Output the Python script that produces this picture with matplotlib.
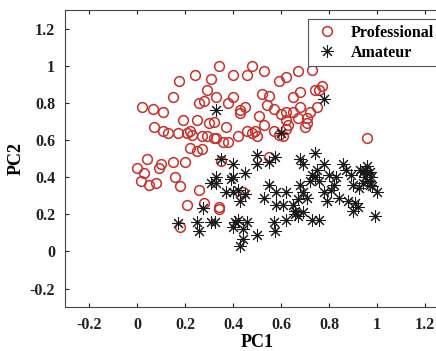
import numpy as np
import matplotlib
matplotlib.use('Agg')
import matplotlib.pyplot as plt

plt.rcParams['font.family'] = ['Liberation Serif', 'DejaVu Serif']
plt.rcParams['font.weight'] = 'bold'

# Professional (circles)
pro_x = [0.02, 0.065, 0.11, 0.15, 0.175, 0.24, 0.31, 0.34, 0.29, 0.26, 0.28, 0.33,
         0.07, 0.11, 0.13, 0.19, 0.17, 0.21, 0.22, 0.23, 0.25, 0.27, 0.30, 0.32, 0.29,
         0.32, 0.22, 0.25, 0.27, 0.04, 0.10, 0.09, 0.15, 0.20, 0.0, 0.03, 0.017, 0.05,
         0.08, 0.16, 0.18, 0.26, 0.28, 0.21, 0.34, 0.18,
         0.40, 0.46, 0.48, 0.53, 0.59, 0.62, 0.67, 0.73, 0.38, 0.40, 0.43, 0.45, 0.43,
         0.52, 0.55, 0.54, 0.57, 0.65, 0.68, 0.68, 0.74, 0.76, 0.77, 0.75, 0.51, 0.60,
         0.62, 0.65, 0.67, 0.72, 0.71, 0.71, 0.70, 0.62, 0.63, 0.62, 0.53, 0.37, 0.46,
         0.48, 0.50, 0.49, 0.57, 0.59, 0.61, 0.33, 0.36, 0.38, 0.42, 0.96, 0.55, 0.35,
         0.44, 0.34]
pro_y = [0.78, 0.77, 0.75, 0.83, 0.92, 0.95, 0.93, 1.0, 0.87, 0.80, 0.81, 0.83,
         0.67, 0.65, 0.64, 0.71, 0.64, 0.64, 0.65, 0.63, 0.71, 0.62, 0.69, 0.70, 0.62,
         0.61, 0.56, 0.54, 0.55, 0.50, 0.47, 0.45, 0.48, 0.48, 0.45, 0.42, 0.38, 0.36,
         0.37, 0.40, 0.35, 0.33, 0.26, 0.25, 0.23, 0.13,
         0.95, 0.95, 1.0, 0.97, 0.92, 0.94, 0.97, 0.98, 0.80, 0.83, 0.76, 0.78, 0.745,
         0.85, 0.84, 0.79, 0.77, 0.83, 0.86, 0.78, 0.87, 0.87, 0.89, 0.78, 0.73, 0.74,
         0.75, 0.75, 0.72, 0.75, 0.72, 0.69, 0.67, 0.71, 0.68, 0.66, 0.68, 0.67, 0.65,
         0.64, 0.62, 0.65, 0.65, 0.63, 0.62, 0.61, 0.59, 0.59, 0.62, 0.61, 0.51, 0.49,
         0.32, 0.24]

# Amateur (asterisks)
ama_x = [0.17, 0.25, 0.26, 0.31, 0.275, 0.31, 0.33, 0.33, 0.78, 0.60,
         0.35, 0.40, 0.50, 0.50, 0.55, 0.575, 0.68, 0.69, 0.74, 0.78, 0.75, 0.73, 0.86,
         0.87, 0.96, 0.94, 0.96, 0.95, 0.975, 0.45, 0.40, 0.33, 0.39,
         0.37, 0.40, 0.42, 0.45, 0.43, 0.55, 0.53, 0.58, 0.62, 0.58, 0.61, 0.65, 0.66,
         0.67, 0.68, 0.325, 0.41, 0.46, 0.40, 0.44, 0.50, 0.57, 0.575, 0.44, 0.43, 0.62,
         0.66, 0.74, 0.76, 0.72, 0.80, 0.83, 0.89, 0.82, 0.81, 0.90, 0.925, 0.98, 1.0,
         0.78, 0.79, 0.71, 0.69, 0.84, 0.88, 0.91, 0.92, 0.90, 0.99, 0.73, 0.76, 0.69,
         0.67, 0.95, 0.97, 0.96, 0.94, 0.97, 0.93, 0.42]
ama_y = [0.155, 0.16, 0.11, 0.16, 0.235, 0.37, 0.37, 0.76, 0.82, 0.64,
         0.50, 0.47, 0.52, 0.47, 0.48, 0.51, 0.50, 0.47, 0.53, 0.47, 0.44, 0.41, 0.47,
         0.44, 0.46, 0.43, 0.42, 0.40, 0.40, 0.42, 0.40, 0.40, 0.39,
         0.32, 0.32, 0.33, 0.31, 0.27, 0.36, 0.29, 0.32, 0.32, 0.25, 0.25, 0.25, 0.22,
         0.28, 0.36, 0.16, 0.16, 0.16, 0.13, 0.12, 0.09, 0.16, 0.11, 0.065, 0.03, 0.17,
         0.20, 0.40, 0.38, 0.38, 0.41, 0.40, 0.41, 0.36, 0.33, 0.36, 0.34, 0.35, 0.32,
         0.32, 0.27, 0.29, 0.32, 0.29, 0.27, 0.26, 0.24, 0.22, 0.19, 0.17, 0.17, 0.21,
         0.19, 0.44, 0.43, 0.38, 0.37, 0.36, 0.44, 0.17]

ticks = [-0.2, 0, 0.2, 0.4, 0.6, 0.8, 1, 1.2]
tick_labels = ['-0.2', '0', '0.2', '0.4', '0.6', '0.8', '1', '1.2']

fig = plt.figure(figsize=(4.36, 3.51), dpi=100)
# axes runs past the right edge, like the cropped original
ax = fig.add_axes([0.149, 0.125, 0.881, 0.846])

ax.plot(pro_x, pro_y, 'o', mfc='none', mec='#c8312c', mew=1.1, ms=7, label='Professional')
ax.plot(ama_x, ama_y, ls='none', marker=(8, 2, 0), color='#1a1a1a', mew=0.75, ms=9, label='Amateur')

ax.set_xlim(-0.3, 1.3)
ax.set_ylim(-0.3, 1.3)
ax.set_xticks(ticks)
ax.set_xticklabels(tick_labels)
ax.set_yticks(ticks)
ax.set_yticklabels(tick_labels)
ax.tick_params(direction='in', top=True, right=True, length=3, width=0.8,
               labelsize=11.5, colors='#222222', pad=7)
for lab in ax.get_xticklabels() + ax.get_yticklabels():
    lab.set_fontweight('bold')
for s in ax.spines.values():
    s.set_color('#444444')
    s.set_linewidth(0.8)

ax.set_xlabel('PC1', fontsize=13, fontweight='bold', labelpad=1)
ax.set_ylabel('PC2', fontsize=13, fontweight='bold', labelpad=4)

leg = ax.legend(loc='upper left', bbox_to_anchor=(0.634, 0.970), fancybox=False,
                framealpha=1, edgecolor='#555555', prop={'weight': 'bold', 'size': 11.5},
                handletextpad=0.7, borderpad=0.35, labelspacing=0.25, handlelength=1.6,
                borderaxespad=0)
leg.get_frame().set_linewidth(0.8)

fig.savefig('out.png', dpi=100)
